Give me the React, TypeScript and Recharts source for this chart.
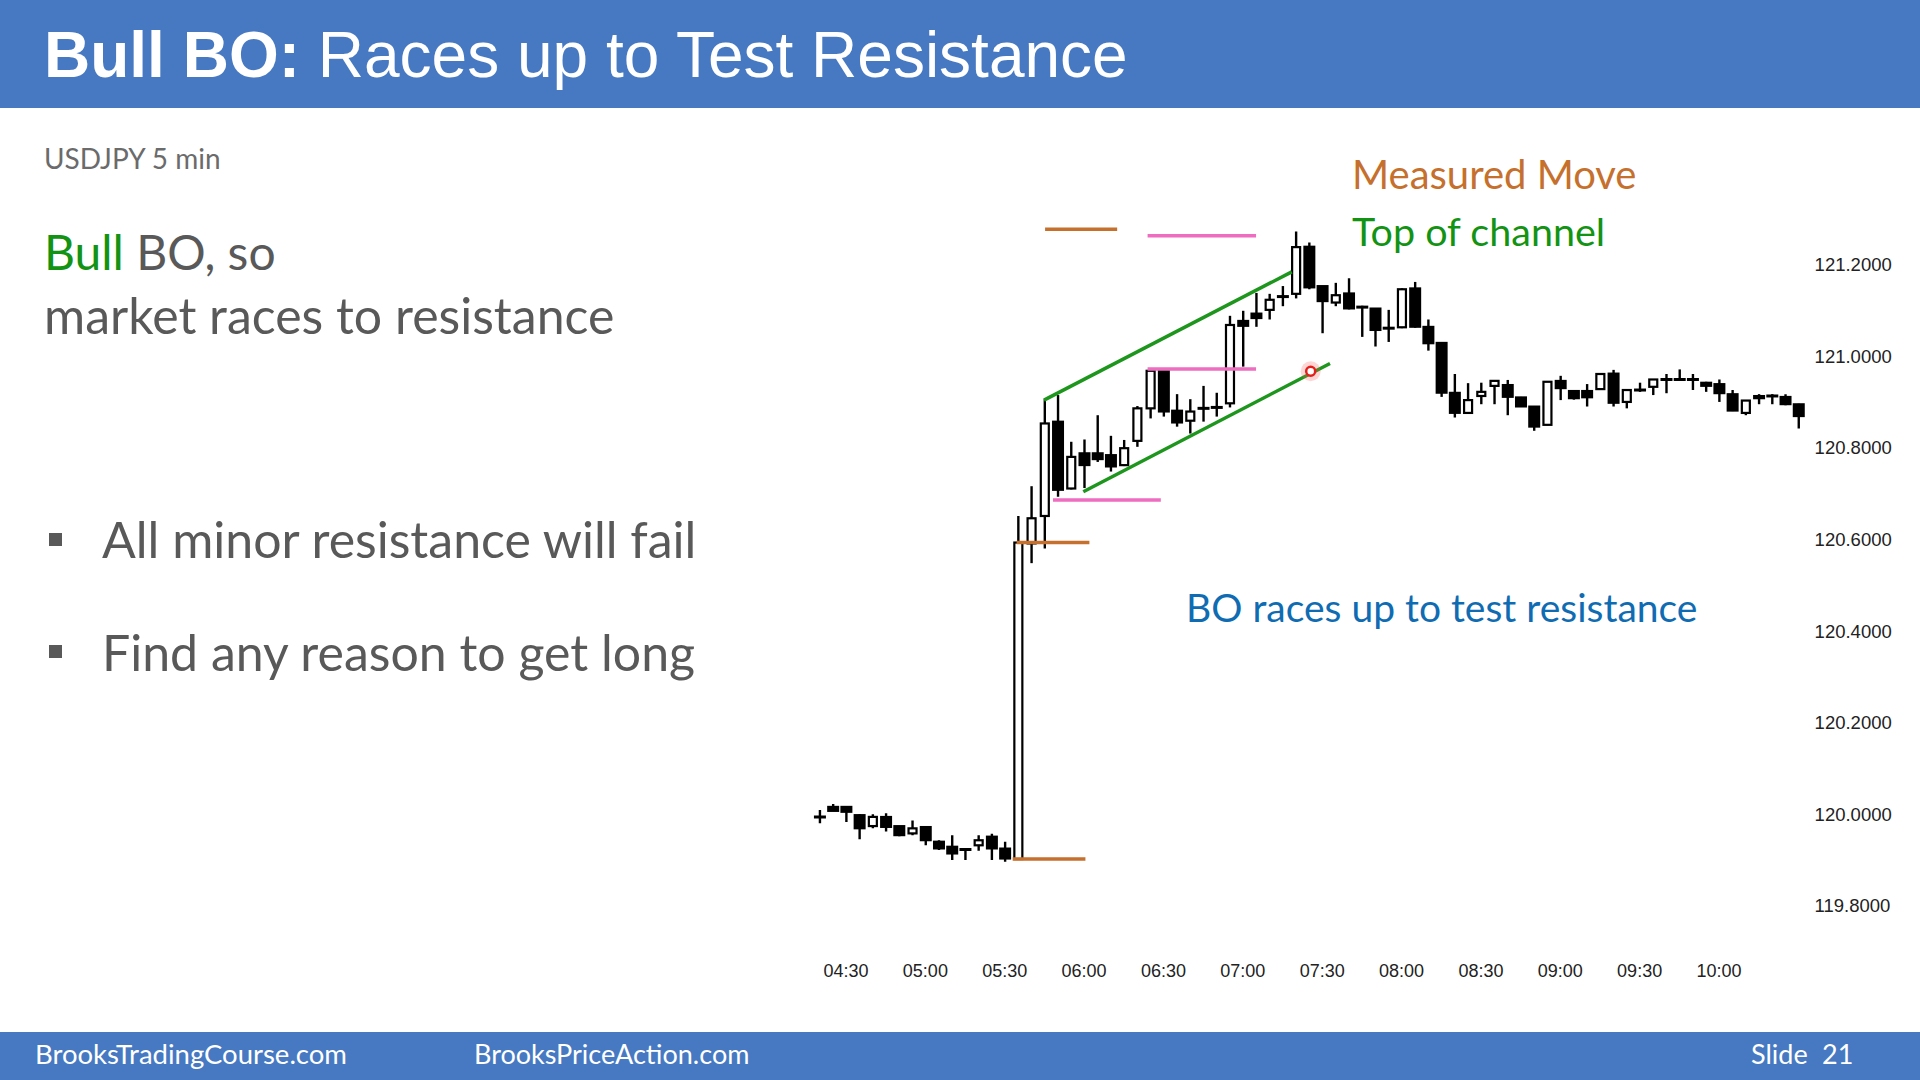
import React from 'react'
import { ComposedChart, Bar, XAxis, YAxis, ReferenceLine, ReferenceDot } from 'recharts'

// USDJPY 5 min bars, index 0 = 04:20, last = 10:30
const OPEN = [
  119.994, 120.016, 120.016, 119.998, 119.974, 119.994, 119.974, 119.958, 119.972, 119.94,
  119.929, 119.923, 119.932, 119.951, 119.925, 119.902, 120.591, 120.651, 120.857, 120.711,
  120.788, 120.788, 120.784, 120.762, 120.815, 120.886, 120.968, 120.881, 120.859, 120.886,
  120.888, 120.897, 121.077, 121.093, 121.101, 121.13, 121.136, 121.239, 121.153, 121.117,
  121.137, 121.109, 121.104, 121.061, 121.063, 121.148, 121.064, 121.029, 120.92, 120.876,
  120.913, 120.935, 120.937, 120.91, 120.89, 120.85, 120.946, 120.924, 120.924, 120.928,
  120.962, 120.9, 120.926, 120.933, 120.949, 120.949, 120.949, 120.942, 120.939, 120.917,
  120.876, 120.913, 120.913, 120.911, 120.895,
]
const HIGH = [
  120.009, 120.022, 120.016, 120.0, 120.0, 120.002, 119.974, 119.986, 119.972, 119.943,
  119.954, 119.924, 119.954, 119.957, 119.94, 120.651, 120.716, 120.906, 120.915, 120.813,
  120.818, 120.871, 120.826, 120.817, 120.891, 120.97, 120.97, 120.917, 120.906, 120.935,
  120.92, 121.088, 121.099, 121.138, 121.136, 121.153, 121.272, 121.248, 121.153, 121.16,
  121.17, 121.11, 121.104, 121.101, 121.148, 121.162, 121.08, 121.029, 120.961, 120.941,
  120.942, 120.947, 120.948, 120.911, 120.89, 120.945, 120.957, 120.926, 120.939, 120.963,
  120.97, 120.927, 120.942, 120.95, 120.961, 120.971, 120.961, 120.944, 120.949, 120.926,
  120.904, 120.917, 120.917, 120.917, 120.896,
]
const LOW = [
  119.98, 120.007, 119.983, 119.945, 119.969, 119.962, 119.952, 119.954, 119.932, 119.922,
  119.9, 119.9, 119.92, 119.9, 119.896, 119.9, 120.548, 120.58, 120.693, 120.709,
  120.712, 120.769, 120.748, 120.76, 120.802, 120.864, 120.868, 120.846, 120.831, 120.857,
  120.868, 120.888, 120.977, 121.064, 121.08, 121.109, 121.126, 121.146, 121.05, 121.109,
  121.102, 121.042, 121.021, 121.031, 121.061, 121.062, 121.012, 120.911, 120.866, 120.874,
  120.895, 120.895, 120.871, 120.889, 120.837, 120.849, 120.904, 120.905, 120.89, 120.926,
  120.89, 120.886, 120.922, 120.915, 120.919, 120.948, 120.926, 120.922, 120.9, 120.88,
  120.871, 120.895, 120.895, 120.893, 120.842,
]
const CLOSE = [
  119.994, 120.007, 120.005, 119.969, 119.994, 119.972, 119.954, 119.969, 119.943, 119.925,
  119.914, 119.923, 119.943, 119.925, 119.903, 120.593, 120.646, 120.853, 120.708, 120.78,
  120.762, 120.775, 120.759, 120.799, 120.886, 120.968, 120.879, 120.855, 120.879, 120.886,
  120.888, 121.068, 121.066, 121.083, 121.123, 121.13, 121.238, 121.15, 121.12, 121.133,
  121.104, 121.105, 121.057, 121.061, 121.146, 121.064, 121.028, 120.92, 120.876, 120.904,
  120.922, 120.946, 120.911, 120.89, 120.846, 120.944, 120.93, 120.908, 120.91, 120.961,
  120.898, 120.926, 120.926, 120.949, 120.949, 120.949, 120.949, 120.935, 120.919, 120.881,
  120.903, 120.908, 120.913, 120.895, 120.869,
]

const X_TICK_IDX = [2, 8, 14, 20, 26, 32, 38, 44, 50, 56, 62, 68]
const X_TICK_LABELS = ['04:30', '05:00', '05:30', '06:00', '06:30', '07:00', '07:30', '08:00', '08:30', '09:00', '09:30', '10:00']
const Y_TICKS = [119.8, 120.0, 120.2, 120.4, 120.6, 120.8, 121.0, 121.2]

// horizontal marks: [from bar, to bar, price]
const MM_LINES = [
  [17.05, 22.5, 121.277],
  [14.9, 20.4, 120.593],
  [14.6, 20.1, 119.902],
]
const PINK_LINES = [
  [24.8, 33.0, 121.263],
  [24.8, 33.0, 120.972],
  [17.65, 25.8, 120.686],
]
// channel: [bar1, price1, bar2, price2]
const CHANNEL_LINES = [
  [16.97, 120.904, 35.7, 121.184],
  [19.94, 120.704, 38.59, 120.984],
]
const POINTER = [37.13, 120.967]

const BLUE = '#4679C2'
const ORANGE = '#C6702D'
const PINK = '#EE6DC0'
const GREEN = '#139313'
const GRAY = '#595959'
const BODY_FONT = 'Lato, "Open Sans", sans-serif'
const ARIAL = '"Liberation Sans", Arial, sans-serif'

const data = OPEN.map((o, i) => ({ idx: i, open: o, high: HIGH[i], low: LOW[i], close: CLOSE[i] }))

function Candle(props: any) {
  const { x, y, width, height, payload } = props
  const { open, close, high, low } = payload
  const cx = x + width / 2
  const ppu = high === low ? 0 : height / (high - low)
  const yOf = (v: number) => y + (high - v) * ppu
  const top = yOf(Math.max(open, close))
  const bot = yOf(Math.min(open, close))
  const wick = <line x1={cx} x2={cx} y1={y} y2={y + height} stroke="#000" strokeWidth={2.4} />
  if (bot - top < 2) {
    return (
      <g>
        {wick}
        <line x1={cx - 6} x2={cx + 6} y1={(top + bot) / 2} y2={(top + bot) / 2} stroke="#000" strokeWidth={3} />
      </g>
    )
  }
  if (close >= open) {
    return (
      <g>
        {wick}
        <rect x={cx - 4} y={top} width={8} height={bot - top} fill="#fff" stroke="#000" strokeWidth={2.2} />
      </g>
    )
  }
  return (
    <g>
      {wick}
      <rect x={cx - 6} y={top - 1} width={12} height={bot - top + 2} fill="#000" />
    </g>
  )
}

export default function App() {
  return (
    <div style={{ position: 'fixed', left: 0, top: 0, width: 1920, height: 1080, background: '#fff', overflow: 'hidden' }}>
      <svg width={1920} height={1080} style={{ position: 'absolute', left: 0, top: 0 }}>
        <rect x={0} y={0} width={1920} height={108} fill={BLUE} />
        <text x={44} y={77} fontFamily={ARIAL} fontSize={64} fill="#fff">
          <tspan fontWeight={700}>Bull BO:</tspan>
          <tspan> Races up to Test Resistance</tspan>
        </text>
        <text x={44} y={169} fontFamily={BODY_FONT} fontSize={28} fill="#6b6b6b">USDJPY 5 min</text>
        <text x={44} y={270} fontFamily={BODY_FONT} fontSize={48} fill={GRAY}>
          <tspan fill={GREEN}>Bull</tspan>
          <tspan> BO, so</tspan>
        </text>
        <text x={44} y={334} fontFamily={BODY_FONT} fontSize={50} fill={GRAY}>market races to resistance</text>
        <rect x={49} y={533} width={13} height={13} fill={GRAY} />
        <text x={102} y={558} fontFamily={BODY_FONT} fontSize={50} fill={GRAY}>All minor resistance will fail</text>
        <rect x={49} y={645} width={13} height={13} fill={GRAY} />
        <text x={102} y={671} fontFamily={BODY_FONT} fontSize={50} fill={GRAY}>Find any reason to get long</text>
        <text x={1352} y={189} fontFamily={BODY_FONT} fontSize={40} fill={ORANGE}>Measured Move</text>
        <text x={1352} y={246} fontFamily={BODY_FONT} fontSize={39.5} fill={GREEN}>Top of channel</text>
        <text x={1186} y={622} fontFamily={BODY_FONT} fontSize={39} fill="#106CB2">BO races up to test resistance</text>
        <rect x={0} y={1032} width={1920} height={48} fill={BLUE} />
        <text x={35} y={1064} fontFamily={BODY_FONT} fontSize={27.5} fill="#fff">BrooksTradingCourse.com</text>
        <text x={474} y={1064} fontFamily={BODY_FONT} fontSize={27} fill="#fff">BrooksPriceAction.com</text>
        <text x={1751} y={1064} fontFamily={BODY_FONT} fontSize={27} fill="#fff">Slide</text>
        <text x={1822} y={1064} fontFamily={BODY_FONT} fontSize={27} fill="#fff">21</text>
      </svg>
      <div style={{ position: 'absolute', left: 0, top: 0 }}>
        <ComposedChart
          width={1920}
          height={1080}
          data={data}
          margin={{ top: 200.4, right: 8.4, bottom: 97.6, left: 793.1 }}
        >
          <XAxis
            type="number"
            dataKey="idx"
            domain={[-2, 75]}
            ticks={X_TICK_IDX}
            interval={0}
            allowDataOverflow
            tickFormatter={(v: number) => X_TICK_LABELS[X_TICK_IDX.indexOf(v)]}
            axisLine={false}
            tickLine={false}
            tickSize={0}
            tickMargin={22}
            height={40}
            tick={{ fill: '#222', fontSize: 18, fontFamily: ARIAL }}
          />
          <YAxis
            orientation="right"
            type="number"
            domain={[119.72, 121.34]}
            ticks={Y_TICKS}
            interval={0}
            allowDataOverflow
            tickFormatter={(v: number) => v.toFixed(4)}
            axisLine={false}
            tickLine={false}
            tickSize={0}
            tickMargin={3}
            width={100}
            tick={{ fill: '#222', fontSize: 18.5, fontFamily: ARIAL }}
          />
          {MM_LINES.map((l, i) => (
            <ReferenceLine
              key={`mm-${i}`}
              segment={[{ x: l[0], y: l[2] }, { x: l[1], y: l[2] }]}
              stroke={ORANGE}
              strokeWidth={3.5}
              ifOverflow="visible"
            />
          ))}
          {PINK_LINES.map((l, i) => (
            <ReferenceLine
              key={`pk-${i}`}
              segment={[{ x: l[0], y: l[2] }, { x: l[1], y: l[2] }]}
              stroke={PINK}
              strokeWidth={3.5}
              ifOverflow="visible"
            />
          ))}
          {CHANNEL_LINES.map((l, i) => (
            <ReferenceLine
              key={`ch-${i}`}
              segment={[{ x: l[0], y: l[1] }, { x: l[2], y: l[3] }]}
              stroke="#1E961E"
              strokeWidth={3.5}
              ifOverflow="visible"
            />
          ))}
          <Bar
            dataKey={(d: any) => [d.low, d.high]}
            barSize={10}
            shape={<Candle />}
            isAnimationActive={false}
          />
          <ReferenceDot x={POINTER[0]} y={POINTER[1]} r={10} fill="rgba(255,90,90,0.25)" stroke="none" ifOverflow="visible" />
          <ReferenceDot x={POINTER[0]} y={POINTER[1]} r={4.5} fill="#fff" stroke="#E3211C" strokeWidth={2.5} ifOverflow="visible" />
        </ComposedChart>
      </div>
    </div>
  )
}
